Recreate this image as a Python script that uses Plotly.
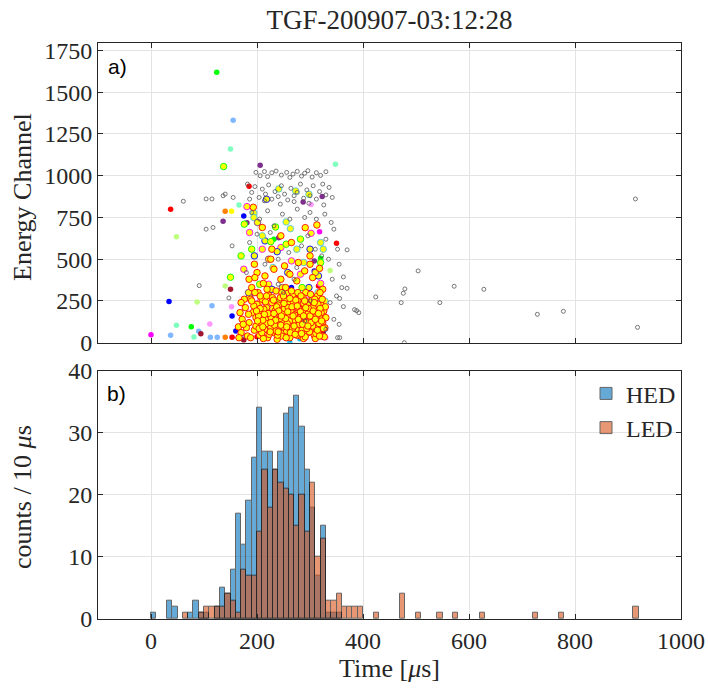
import plotly.graph_objects as go

# ---------------- Histogram data (10 us bins, bin left edges) ----------------
hed_bins = [0, 30, 40, 70, 80, 90, 100, 120, 130, 140, 150, 160, 170, 180, 190, 200, 210, 220,
            230, 240, 250, 260, 270, 280, 290, 300, 310, 320, 330, 340, 350]
hed_counts = [1, 3, 2, 1, 3, 1, 1, 2, 5, 4, 8, 17, 12, 19, 26, 34, 27, 27,
              24, 27, 33, 34, 36, 31, 24, 18, 7, 15, 1, 1, 1]

led_bins = [60, 90, 100, 110, 120, 130, 140, 150, 160, 170, 180, 190, 200, 210, 220, 230, 240,
            250, 260, 270, 280, 290, 300, 310, 320, 330, 340, 350, 360, 370, 380, 390, 420,
            470, 500, 540, 570, 620, 720, 770, 910]
led_counts = [1, 1, 2, 2, 2, 2, 4, 3, 1, 8, 7, 7, 14, 24, 18, 24, 22,
              21, 20, 15, 20, 14, 22, 10, 13, 3, 3, 4, 2, 2, 2, 2, 1,
              4, 1, 1, 1, 1, 1, 1, 2]

# ---------------- Scatter data (time [us], energy channel) ----------------
gray_pts = [
    (198, 1020), (206, 1000), (214, 1025), (220, 995), (228, 1018), (236, 1028), (246, 1004),
    (256, 1020), (262, 990), (268, 1010), (276, 1026), (284, 998), (290, 1015), (296, 1030),
    (304, 992), (312, 1018), (320, 1002), (330, 1024),
    (182, 950), (190, 900), (196, 935), (204, 870), (210, 920), (216, 890), (222, 945), (228, 860),
    (234, 905), (240, 875), (246, 940), (252, 890), (258, 855), (264, 925), (270, 880), (276, 900),
    (282, 950), (288, 865), (294, 915), (300, 880), (306, 940), (312, 860), (318, 905), (324, 950),
    (330, 885), (336, 930), (342, 870), (186, 860), (214, 850), (244, 830), (270, 845), (298, 835),
    (326, 825), (61, 847), (104, 861), (115, 861), (136, 880), (140, 890), (155, 870),
    (104, 680), (117, 690), (153, 580), (190, 780), (205, 740), (220, 790), (232, 700), (248, 770),
    (262, 740), (276, 800), (290, 750), (300, 780), (312, 740), (328, 770), (340, 720), (200, 650),
    (225, 660), (260, 540), (284, 580), (296, 640), (310, 560), (330, 620), (345, 680), (352, 560),
    (370, 556), (186, 600), (215, 470), (240, 500), (275, 450), (335, 500), (355, 470), (322, 520),
    (91, 342), (147, 268), (363, 394), (370, 326), (350, 280), (356, 265), (363, 216), (384, 198),
    (388, 192), (392, 180), (424, 274), (352, 30), (356, 30), (345, 140), (338, 240), (342, 380),
    (355, 110), (360, 330), (240, 350), (270, 380), (300, 250), (180, 420), (330, 80), (250, 300),
    (290, 130),
    (914, 861), (504, 430), (479, 322), (476, 296), (472, 240), (545, 240), (572, 338), (628, 320),
    (729, 170), (778, 188), (918, 92), (478, 0),
]

yellow_red_pts = [
    (165, 95), (170, 60), (172, 140), (178, 210), (182, 40), (185, 120), (188, 260), (190, 330),
    (192, 180), (195, 75), (198, 150), (200, 230), (202, 300), (205, 45), (207, 110), (208, 190),
    (210, 260), (212, 355), (214, 80), (216, 140), (218, 210), (220, 30), (222, 285), (224, 170),
    (226, 95), (228, 240), (230, 120), (232, 60), (234, 190), (236, 310), (238, 150), (240, 225),
    (242, 85), (244, 270), (246, 40), (248, 175), (250, 120), (252, 205), (254, 330), (256, 70),
    (258, 155), (260, 245), (262, 100), (264, 190), (266, 55), (268, 290), (270, 135), (272, 220),
    (274, 80), (276, 175), (278, 260), (280, 110), (282, 40), (284, 200), (286, 150), (288, 235),
    (290, 90), (292, 300), (294, 170), (296, 60), (298, 130), (300, 215), (302, 85), (304, 255),
    (306, 160), (308, 45), (310, 195), (312, 110), (314, 280), (316, 70), (318, 150), (320, 230),
    (322, 40), (324, 120), (326, 190), (328, 90),
    (185, 380), (200, 420), (215, 400), (232, 440), (245, 380), (262, 410), (275, 370), (290, 430),
    (305, 390), (195, 470), (226, 500), (252, 460), (278, 480), (300, 470), (318, 445),
    (212, 25), (238, 20), (262, 30), (288, 25), (310, 25), (176, 260), (168, 180), (330, 150),
    (324, 320), (196, 390),
    (180, 90), (184, 170), (188, 30), (194, 220), (198, 100), (203, 160), (206, 280), (209, 60),
    (213, 200), (217, 115), (219, 320), (223, 50), (227, 150), (229, 270), (233, 105), (237, 215),
    (239, 45), (243, 145), (247, 300), (249, 95), (253, 260), (255, 30), (259, 210), (261, 130),
    (265, 310), (267, 85), (269, 240), (271, 165), (275, 45), (277, 300), (279, 205), (281, 150),
    (285, 75), (287, 270), (289, 195), (291, 35), (293, 120), (295, 230), (297, 180), (299, 65),
    (301, 290), (303, 140), (305, 100), (307, 215), (309, 260), (311, 55), (313, 165), (315, 230),
    (317, 115), (319, 300), (321, 180), (323, 260), (325, 85), (327, 35), (329, 215), (190, 250),
    (196, 300), (204, 85), (211, 135), (236, 70), (257, 115), (283, 280), (300, 160), (318, 40),
    (174, 110), (170, 240), (166, 30),
    (193, 811), (291, 689), (313, 705), (245, 640), (210, 690), (265, 600), (300, 520), (228, 560),
    (201, 130), (206, 205), (211, 95), (216, 245), (221, 175), (225, 65), (231, 255), (235, 135),
    (241, 190), (245, 105), (251, 235), (254, 145), (258, 185), (263, 60), (266, 215), (270, 100),
    (273, 255), (278, 140), (282, 185), (286, 110), (290, 250), (294, 85), (297, 205), (302, 120),
    (306, 190), (310, 140), (314, 75), (319, 205), (322, 130), (226, 120), (246, 160), (268, 160),
    (288, 160), (232, 175), (256, 95), (276, 220), (296, 100), (214, 170), (240, 65), (262, 265),
    (284, 55), (308, 240), (199, 190), (218, 280), (250, 280), (272, 50), (292, 210), (316, 175),
]
yellow_magenta_pts = [
    (181, 815), (175, 440), (210, 560), (222, 350), (240, 130), (258, 300), (268, 180), (282, 410),
    (296, 250), (310, 90), (230, 205), (250, 60), (290, 160), (205, 240), (320, 355), (302, 655),
    (245, 570), (186, 660), (265, 490),
]
yellow_blue_pts = [
    (218, 859), (215, 610), (195, 520), (228, 320), (248, 240), (272, 100), (298, 330), (314, 190),
    (258, 420), (186, 275), (300, 560), (238, 545), (280, 55), (316, 400), (205, 150),
]
yellow_green_pts = [
    (137, 1055), (150, 392), (235, 693), (190, 560), (176, 710), (205, 350), (243, 260), (263, 140),
    (285, 330), (300, 110), (320, 480), (226, 605), (170, 520), (255, 590), (282, 620), (208, 100),
]
yellow_cyan_pts = [
    (241, 921), (273, 909), (298, 889), (194, 775), (194, 750), (255, 723), (263, 683), (320, 600),
    (210, 640), (275, 560), (315, 300), (230, 450), (288, 480), (328, 250), (325, 560),
]
yellow_purple_pts = [
    (201, 720), (222, 500), (248, 330), (265, 250), (292, 190), (230, 80), (310, 420), (280, 280),
    (184, 300), (255, 165),
]

solid_green = [(124, 1620), (76, 96), (320, 506), (232, 620)]
solid_lightblue = [(155, 1332), (90, 68), (37, 44), (112, 33), (125, 32), (115, 222), (175, 40), (200, 120)]
solid_aqua = [(150, 1160), (348, 1069), (166, 825), (48, 104), (81, 34), (262, 38), (315, 260)]
solid_purple = [(206, 1063), (181, 719), (136, 727), (323, 875), (287, 843), (241, 629), (308, 490), (325, 60)]
solid_red = [(185, 937), (37, 799), (350, 596), (153, 32), (200, 35), (316, 340)]
solid_orange = [(140, 787), (140, 32), (322, 210)]
solid_yellow = [(152, 787)]
solid_blue = [(175, 759), (308, 430), (34, 246), (153, 160), (160, 70), (265, 330)]
solid_lightgreen = [(48, 635), (338, 432), (87, 244), (140, 340), (320, 280)]
solid_pink = [(302, 827), (111, 112), (152, 216), (205, 44), (330, 30), (245, 40)]
solid_magenta = [(318, 665), (0, 48), (165, 32)]
solid_darkred = [(150, 320), (94, 54), (175, 16), (324, 70)]
solid_skyblue = [(262, 0), (281, 24)]

title_text = "TGF-200907-03:12:28"
x_ticks = [0, 200, 400, 600, 800, 1000]
y1_ticks = [0, 250, 500, 750, 1000, 1250, 1500, 1750]
y2_ticks = [0, 10, 20, 30, 40]

SERIF = "Liberation Serif"
SANS = "Liberation Sans"
AX = "#262626"
GRID = "#E3E3E3"
TICKSIZE = 24

fig = go.Figure()

def solid(pts, color):
    fig.add_trace(go.Scatter(
        x=[p[0] for p in pts], y=[p[1] for p in pts], mode="markers",
        marker=dict(size=5.5, color=color, line=dict(width=0)),
        showlegend=False, hoverinfo="skip", xaxis="x", yaxis="y"))

def edged(pts, edge):
    fig.add_trace(go.Scatter(
        x=[p[0] for p in pts], y=[p[1] for p in pts], mode="markers",
        marker=dict(size=6.5, color="#FFFF00", line=dict(width=0.9, color=edge)),
        showlegend=False, hoverinfo="skip", xaxis="x", yaxis="y"))

solid(solid_green, "#00FF00")
solid(solid_lightblue, "#80B8FF")
solid(solid_aqua, "#80FFBF")
solid(solid_purple, "#7E2F8E")
solid(solid_red, "#FF0000")
solid(solid_orange, "#FF8000")
solid(solid_yellow, "#FFFF00")
solid(solid_blue, "#0000FF")
solid(solid_lightgreen, "#BFFF80")
solid(solid_pink, "#FF99FF")
solid(solid_magenta, "#FF00FF")
solid(solid_darkred, "#A2142F")
solid(solid_skyblue, "#00BFFF")

edged(yellow_magenta_pts, "#FF00FF")
edged(yellow_blue_pts, "#0000FF")
edged(yellow_green_pts, "#00FF00")
edged(yellow_cyan_pts, "#4DBEEE")
edged(yellow_purple_pts, "#7E2F8E")
edged(yellow_red_pts, "#FF0000")

fig.add_trace(go.Scatter(
    x=[p[0] for p in gray_pts], y=[p[1] for p in gray_pts], mode="markers",
    marker=dict(size=4, symbol="circle-open", color="#555555", line=dict(width=0.8)),
    showlegend=False, hoverinfo="skip", xaxis="x", yaxis="y"))

# ---------------- Histograms ----------------
fig.add_trace(go.Bar(
    x=[b + 5 for b in hed_bins], y=hed_counts, width=10, name="HED",
    marker=dict(color="#0072BD", line=dict(color="black", width=1)),
    opacity=0.6, xaxis="x2", yaxis="y2"))
fig.add_trace(go.Bar(
    x=[b + 5 for b in led_bins], y=led_counts, width=10, name="LED",
    marker=dict(color="#D95319", line=dict(color="black", width=1)),
    opacity=0.6, xaxis="x2", yaxis="y2"))

axis_common = dict(
    range=[-100, 1000], tickvals=x_ticks, ticks="inside", ticklen=5, tickcolor=AX,
    showline=True, linecolor=AX, linewidth=1, mirror="ticks",
    showgrid=True, gridcolor=GRID, zeroline=False, automargin=False,
    tickfont=dict(family=SERIF, size=TICKSIZE, color=AX),
)
yaxis_common = dict(
    ticks="inside", ticklen=5, tickcolor=AX, showline=True, linecolor=AX,
    linewidth=1, mirror="ticks", showgrid=True, gridcolor=GRID, zeroline=False,
    automargin=False,
    tickfont=dict(family=SERIF, size=TICKSIZE, color=AX),
)

fig.update_layout(
    width=708, height=689,
    margin=dict(l=98, r=27, t=43, b=70, autoexpand=False),
    paper_bgcolor="white", plot_bgcolor="white",
    barmode="overlay", bargap=0,
    font=dict(family=SERIF, color=AX),
    title=dict(text=title_text, x=0.5, xref="paper", xanchor="center",
               y=1 - 20 / 689, yanchor="middle",
               font=dict(family=SERIF, size=27, color=AX)),
    xaxis=dict(axis_common, domain=[0, 1], anchor="y", showticklabels=False),
    yaxis=dict(yaxis_common, domain=[0.4797, 1.0], range=[0, 1795], tickvals=y1_ticks, anchor="x"),
    xaxis2=dict(axis_common, domain=[0, 1], anchor="y2"),
    yaxis2=dict(yaxis_common, domain=[0, 0.4311], range=[0, 40], tickvals=y2_ticks, anchor="x2"),
    legend=dict(x=1.0, xanchor="right", y=0.43, yanchor="top",
                bgcolor="rgba(0,0,0,0)", borderwidth=0,
                font=dict(family=SERIF, size=24, color=AX),
                itemwidth=30, tracegroupgap=0),
    annotations=[
        dict(text="a)", xref="paper", yref="paper", x=(106 - 98) / 583, y=(619 - 53) / 576,
             xanchor="left", yanchor="top", showarrow=False,
             font=dict(family=SANS, size=21, color="black")),
        dict(text="b)", xref="paper", yref="paper", x=(105 - 98) / 583, y=(619 - 380) / 576,
             xanchor="left", yanchor="top", showarrow=False,
             font=dict(family=SANS, size=21, color="black")),
        dict(text="Energy Channel", xref="paper", yref="paper", x=(22 - 98) / 583,
             y=(619 - 197) / 576, xanchor="center", yanchor="middle", textangle=-90,
             showarrow=False, font=dict(family=SERIF, size=26, color=AX)),
        dict(text="counts / 10 <i>μ</i>s", xref="paper", yref="paper", x=(22 - 98) / 583,
             y=(619 - 497) / 576, xanchor="center", yanchor="middle", textangle=-90,
             showarrow=False, font=dict(family=SERIF, size=26, color=AX)),
        dict(text="Time [<i>μ</i>s]", xref="paper", yref="paper", x=0.5,
             y=(619 - 668) / 576, xanchor="center", yanchor="middle",
             showarrow=False, font=dict(family=SERIF, size=26, color=AX)),
    ],
)

fig.write_html("out.html")
